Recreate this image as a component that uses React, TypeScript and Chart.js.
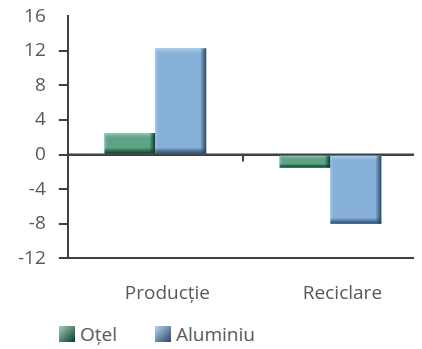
import React, { useEffect, useRef } from "react";
import { Chart, registerables } from "chart.js";

Chart.register(...registerables);

const categories = ["Producție", "Reciclare"];
const seriesNames = ["Oțel", "Aluminiu"];
const otelValues = [2.5, -1.5];
const aluminiuValues = [12.3, -8];
const yTickValues = [-12, -8, -4, 0, 4, 8, 12, 16];

const AXIS = "#404040";
const TEXT = "#595959";
const FONT = "'Open Sans', 'Noto Sans', sans-serif";

const palette = [
  { main: "#5ea386", light: "#aacdbb", dark: "#023f25" },
  { main: "#86b0d8", light: "#bad3eb", dark: "#26486a" },
];

const bevelPlugin = {
  id: "bevel",
  afterDatasetsDraw(chart: any) {
    const ctx = chart.ctx;
    chart.data.datasets.forEach((_ds: any, di: number) => {
      const meta = chart.getDatasetMeta(di);
      const pal = palette[di];
      meta.data.forEach((el: any) => {
        const p = el.getProps(["x", "y", "base", "width"], true);
        const left = p.x - p.width / 2;
        const right = p.x + p.width / 2;
        const top = Math.min(p.y, p.base);
        const bottom = Math.max(p.y, p.base);
        const h = bottom - top;
        const w = right - left;
        const b = Math.min(6, h / 3);
        ctx.save();
        ctx.fillStyle = pal.main;
        ctx.fillRect(left, top, w, h);
        let g = ctx.createLinearGradient(0, top, 0, top + b);
        g.addColorStop(0, pal.light);
        g.addColorStop(1, pal.main + "00");
        ctx.fillStyle = g;
        ctx.fillRect(left, top, w, b);
        g = ctx.createLinearGradient(left, 0, left + 4, 0);
        g.addColorStop(0, pal.light + "aa");
        g.addColorStop(1, pal.main + "00");
        ctx.fillStyle = g;
        ctx.fillRect(left, top, 4, h);
        g = ctx.createLinearGradient(0, bottom - b, 0, bottom);
        g.addColorStop(0, pal.dark + "00");
        g.addColorStop(1, pal.dark);
        ctx.fillStyle = g;
        ctx.fillRect(left, bottom - b, w, b);
        g = ctx.createLinearGradient(right - 6, 0, right, 0);
        g.addColorStop(0, pal.dark + "00");
        g.addColorStop(1, pal.dark);
        ctx.fillStyle = g;
        ctx.fillRect(right - 6, top, 6, h);
        ctx.restore();
      });
    });
    const ys = chart.scales.y;
    const xs = chart.scales.x;
    const y0 = ys.getPixelForValue(0);
    ctx.save();
    ctx.strokeStyle = AXIS;
    ctx.lineWidth = 2;
    ctx.beginPath();
    ctx.moveTo(chart.chartArea.left, y0);
    ctx.lineTo(chart.chartArea.right, y0);
    for (let i = 0; i < categories.length - 1; i++) {
      const sx = Math.round((xs.getPixelForValue(i) + xs.getPixelForValue(i + 1)) / 2);
      ctx.moveTo(sx, y0);
      ctx.lineTo(sx, y0 + 7);
    }
    ctx.stroke();
    ctx.restore();
  },
};

function LegendBox({ light, dark }: { light: string; dark: string }) {
  return (
    <span
      style={{
        display: "inline-block",
        width: 16,
        height: 16,
        background: `linear-gradient(135deg, ${light}, ${dark})`,
        marginRight: 5,
      }}
    />
  );
}

export default function App() {
  const ref = useRef<HTMLCanvasElement | null>(null);

  useEffect(() => {
    if (!ref.current) return;
    const chart = new Chart(ref.current, {
      type: "bar",
      data: {
        labels: categories,
        datasets: [
          { label: seriesNames[0], data: otelValues, backgroundColor: palette[0].main },
          { label: seriesNames[1], data: aluminiuValues, backgroundColor: palette[1].main },
        ],
      },
      plugins: [bevelPlugin],
      options: {
        animation: false,
        responsive: false,
        layout: { padding: { left: -3, right: 4, top: 0, bottom: 0 } },
        plugins: { legend: { display: false }, tooltip: { enabled: false } },
        datasets: { bar: { categoryPercentage: 0.58, barPercentage: 1 } },
        scales: {
          x: {
            border: { display: true, color: AXIS, width: 2 },
            grid: { display: false },
            ticks: {
              color: TEXT,
              font: { family: FONT, size: 19 },
              padding: 16,
              labelOffset: 12,
            },
          },
          y: {
            min: yTickValues[0],
            max: yTickValues[yTickValues.length - 1],
            afterBuildTicks: (scale: any) => {
              scale.ticks = yTickValues.map((v) => ({ value: v }));
            },
            border: { display: true, color: AXIS, width: 2 },
            grid: {
              color: (c: any) => (c.tick && c.tick.value === 0 ? AXIS : "rgba(0,0,0,0)"),
              tickColor: (c: any) =>
                c.tick && c.tick.value === yTickValues[yTickValues.length - 1] ? "rgba(0,0,0,0)" : AXIS,
              lineWidth: 2,
              tickLength: 9,
              drawOnChartArea: true,
            },
            ticks: {
              color: TEXT,
              font: { family: FONT, size: 19 },
              padding: 13,
            },
          },
        },
      },
    });
    return () => chart.destroy();
  }, []);

  return (
    <div style={{ position: "relative", width: 414, height: 341 }}>
      <canvas
        ref={ref}
        width={414}
        height={329}
        style={{ display: "block", position: "absolute", left: 0, top: -16 }}
      />
      <div
        style={{
          position: "absolute",
          left: 51,
          top: 316,
          display: "flex",
          alignItems: "center",
          fontFamily: FONT,
          fontSize: 19,
          color: TEXT,
          lineHeight: "20px",
        }}
      >
        <span style={{ display: "flex", alignItems: "center", width: 96 }}>
          <LegendBox light={palette[0].light} dark={palette[0].dark} />
          {seriesNames[0]}
        </span>
        <span style={{ display: "flex", alignItems: "center" }}>
          <LegendBox light={palette[1].light} dark={palette[1].dark} />
          {seriesNames[1]}
        </span>
      </div>
    </div>
  );
}
